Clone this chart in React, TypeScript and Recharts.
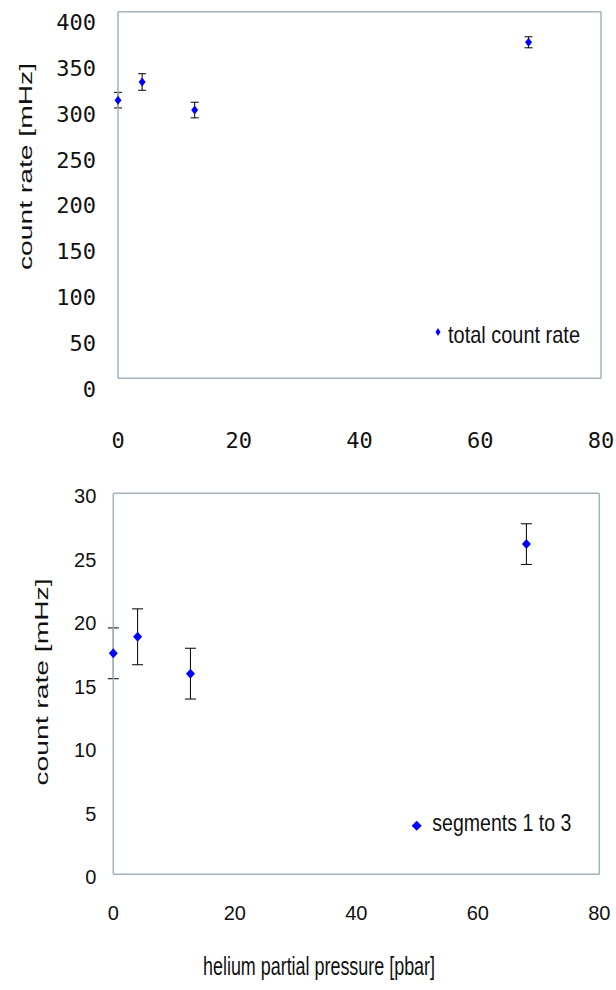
import React from 'react';
import {
  ScatterChart,
  Scatter,
  XAxis,
  YAxis,
  ErrorBar,
  ReferenceLine,
  Legend,
  Label,
} from 'recharts';

// ---- data ----
const pressure = [0, 4, 12.7, 68];
const totalRate = [303.5, 323.3, 292.7, 366.6];
const totalErr = [8.5, 9, 8.5, 6];
const segRate = [17.4, 18.7, 15.8, 26.0];
const segErr = [2.0, 2.2, 2.0, 1.6];

const xTicks = [0, 20, 40, 60, 80];
const topYTicks = [0, 50, 100, 150, 200, 250, 300, 350, 400];
const botYTicks = [0, 5, 10, 15, 20, 25, 30];

const topSeriesName = 'total count rate';
const botSeriesName = 'segments 1 to 3';
const yTitle = 'count rate [mHz]';
const xTitle = 'helium partial pressure [pbar]';

const topData = pressure.map((p, i) => ({ p, v: totalRate[i], e: totalErr[i] }));
const botData = pressure.map((p, i) => ({ p, v: segRate[i], e: segErr[i] }));

// ---- styles ----
const BLUE = '#0000ff';
const FRAME = '#a0b3bb';
const TXT = '#111';
const SANS = 'Liberation Sans, Arial, sans-serif';
const TOP_TICK_FONT = 'DejaVu Sans Mono, DejaVu Sans Condensed, monospace';
const BOT_TICK_FONT = 'Liberation Sans Narrow, Liberation Sans, sans-serif';

const makeDiamond = (hw: number, hh: number) => (props: any) => {
  const { cx, cy } = props;
  if (cx == null || cy == null) return null;
  return (
    <polygon
      points={`${cx},${cy - hh} ${cx + hw},${cy} ${cx},${cy + hh} ${cx - hw},${cy}`}
      fill={BLUE}
    />
  );
};

const TopYTick = (props: any) => {
  const { x, y, payload } = props;
  return (
    <text x={x - 22} y={y + 18.4} textAnchor="end" fontFamily={TOP_TICK_FONT} fontSize={22} fill={TXT}>
      {payload.value}
    </text>
  );
};
const TopXTick = (props: any) => {
  const { x, y, payload } = props;
  return (
    <text x={x} y={y + 70} textAnchor="middle" fontFamily={TOP_TICK_FONT} fontSize={22} fill={TXT}>
      {payload.value}
    </text>
  );
};
const BotYTick = (props: any) => {
  const { x, y, payload } = props;
  return (
    <text x={x - 17} y={y + 9.9} textAnchor="end" fontFamily={BOT_TICK_FONT} fontSize={20} fill={TXT}>
      {payload.value}
    </text>
  );
};
const BotXTick = (props: any) => {
  const { x, y, payload } = props;
  return (
    <text x={x} y={y + 46} textAnchor="middle" fontFamily={BOT_TICK_FONT} fontSize={20} fill={TXT}>
      {payload.value}
    </text>
  );
};

const TopLegend = () => (
  <svg width={170} height={40} style={{ display: 'block', overflow: 'visible' }}>
    <polygon points="8,13 10.5,17 8,21 5.5,17" fill={BLUE} />
    <text x={18} y={28} fontFamily={SANS} fontSize={24} textLength={132} lengthAdjust="spacingAndGlyphs" fill={TXT}>
      {topSeriesName}
    </text>
  </svg>
);
const BotLegend = () => (
  <svg width={180} height={40} style={{ display: 'block', overflow: 'visible' }}>
    <polygon points="11.7,15.7 16.7,20.7 11.7,25.7 6.7,20.7" fill={BLUE} />
    <text x={27.3} y={26} fontFamily={SANS} fontSize={23} textLength={139} lengthAdjust="spacingAndGlyphs" fill={TXT}>
      {botSeriesName}
    </text>
  </svg>
);

const RotTitle = (cx: number, cy: number) => () => (
  <text
    x={cx}
    y={cy}
    transform={`rotate(-90, ${cx}, ${cy})`}
    textAnchor="middle"
    fontFamily={SANS}
    fontSize={19}
    textLength={207}
    lengthAdjust="spacingAndGlyphs"
    fill={TXT}
  >
    {yTitle}
  </text>
);

const XTitle = () => (
  <text
    x={319}
    y={505}
    textAnchor="middle"
    fontFamily={SANS}
    fontSize={26}
    textLength={232}
    lengthAdjust="spacingAndGlyphs"
    fill={TXT}
  >
    {xTitle}
  </text>
);

export default function App() {
  return (
    <div style={{ position: 'absolute', left: 0, top: 0, width: 616, height: 990, background: '#fff' }}>
      <ScatterChart
        width={616}
        height={470}
        margin={{ top: 11.7, right: 15, bottom: 61.7, left: 58 }}
        style={{ display: 'block' }}
      >
        <XAxis
          type="number"
          dataKey="p"
          domain={[0, 80]}
          ticks={xTicks}
          height={30}
          tickLine={false}
          tickSize={0}
          tickMargin={0}
          axisLine={{ stroke: FRAME, strokeWidth: 1.5 }}
          tick={<TopXTick />}
        />
        <YAxis
          type="number"
          dataKey="v"
          domain={[0, 400]}
          ticks={topYTicks}
          width={60}
          tickLine={false}
          tickSize={0}
          tickMargin={0}
          axisLine={{ stroke: FRAME, strokeWidth: 1.5 }}
          tick={<TopYTick />}
        >
          <Label content={RotTitle(32, 166.5)} />
        </YAxis>
        <ReferenceLine y={400} stroke={FRAME} strokeWidth={1.5} />
        <ReferenceLine x={80} stroke={FRAME} strokeWidth={1.5} />
        <Scatter
          name={topSeriesName}
          data={topData}
          fill={BLUE}
          shape={makeDiamond(3.5, 4.5)}
          isAnimationActive={false}
        >
          <ErrorBar dataKey="e" direction="y" width={4} stroke="#000" strokeWidth={1} />
        </Scatter>
        <Legend
          layout="horizontal"
          verticalAlign="middle"
          align="center"
          content={() => <TopLegend />}
          wrapperStyle={{ left: 430, top: 315, width: 170, height: 40 }}
        />
      </ScatterChart>

      <ScatterChart
        width={616}
        height={520}
        margin={{ top: 23.3, right: 16.7, bottom: 85.7, left: 53.3 }}
        style={{ display: 'block' }}
      >
        <XAxis
          type="number"
          dataKey="p"
          domain={[0, 80]}
          ticks={xTicks}
          height={30}
          tickLine={false}
          tickSize={0}
          tickMargin={0}
          axisLine={{ stroke: FRAME, strokeWidth: 1.5 }}
          tick={<BotXTick />}
        >
          <Label content={XTitle} />
        </XAxis>
        <YAxis
          type="number"
          dataKey="v"
          domain={[0, 30]}
          ticks={botYTicks}
          width={60}
          tickLine={false}
          tickSize={0}
          tickMargin={0}
          axisLine={{ stroke: FRAME, strokeWidth: 1.5 }}
          tick={<BotYTick />}
        >
          <Label content={RotTitle(48, 212)} />
        </YAxis>
        <ReferenceLine y={30} stroke={FRAME} strokeWidth={1.5} />
        <ReferenceLine x={80} stroke={FRAME} strokeWidth={1.5} />
        <Scatter
          name={botSeriesName}
          data={botData}
          fill={BLUE}
          shape={makeDiamond(4.5, 5)}
          isAnimationActive={false}
        >
          <ErrorBar dataKey="e" direction="y" width={5.5} stroke="#000" strokeWidth={1} />
        </Scatter>
        <Legend
          layout="horizontal"
          verticalAlign="middle"
          align="center"
          content={() => <BotLegend />}
          wrapperStyle={{ left: 405, top: 335, width: 180, height: 40 }}
        />
      </ScatterChart>
    </div>
  );
}
